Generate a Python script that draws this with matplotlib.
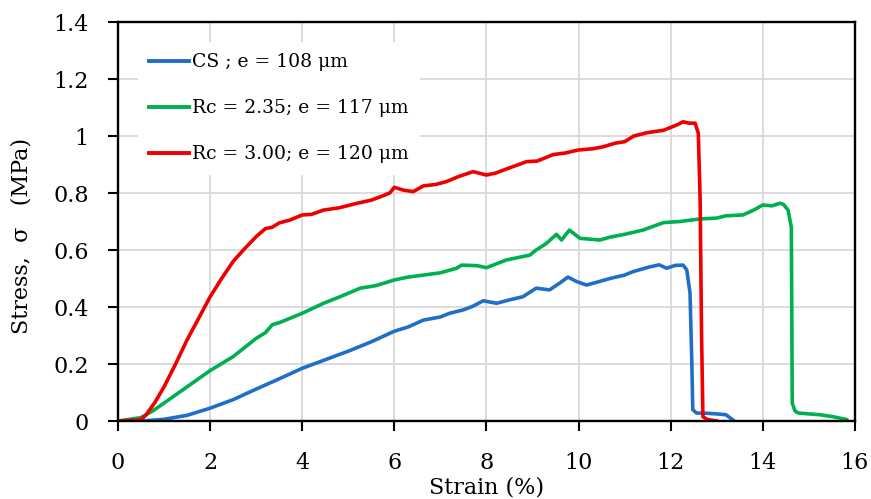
import numpy as np
import matplotlib
matplotlib.use("Agg")
from matplotlib import pyplot as plt

# CS ; e = 108 um
cs_strain = [0, 0.5, 1.0, 1.5, 2.0, 2.5, 3.0, 3.5, 4.0, 4.5, 5.0, 5.5, 6.0, 6.3, 6.63,
             7.0, 7.2, 7.5, 7.71, 7.93, 8.22, 8.5, 8.79, 9.08, 9.37, 9.6, 9.77, 9.95,
             10.17, 10.4, 10.68, 11.0, 11.18, 11.55, 11.75, 11.91, 12.1, 12.27, 12.35,
             12.42, 12.46, 12.48, 12.56, 12.8, 13.0, 13.2, 13.3, 13.38]
cs_stress = [0, 0.0, 0.006, 0.02, 0.045, 0.075, 0.112, 0.148, 0.185, 0.215, 0.245, 0.278,
             0.315, 0.33, 0.354, 0.365, 0.378, 0.39, 0.403, 0.422, 0.413, 0.425, 0.436,
             0.466, 0.46, 0.485, 0.505, 0.49, 0.477, 0.487, 0.50, 0.512, 0.524, 0.541,
             0.548, 0.536, 0.546, 0.547, 0.53, 0.45, 0.20, 0.04, 0.028, 0.027, 0.025,
             0.022, 0.01, 0.0]

# Rc = 2.35; e = 117 um
rc235_strain = [0, 0.5, 0.75, 1.0, 1.5, 2.0, 2.5, 3.0, 3.2, 3.35, 3.5, 3.73, 4.0, 4.46,
                4.82, 5.26, 5.6, 6.0, 6.3, 6.63, 7.0, 7.35, 7.46, 7.8, 8.0, 8.43, 8.94,
                9.08, 9.3, 9.52, 9.63, 9.8, 10.03, 10.46, 10.68, 11.0, 11.4, 11.84, 12.2,
                12.63, 13.0, 13.2, 13.57, 13.8, 14.0, 14.2, 14.37, 14.45, 14.55, 14.62,
                14.64, 14.7, 14.77, 15.0, 15.24, 15.53, 15.82]
rc235_stress = [0, 0.012, 0.035, 0.063, 0.12, 0.177, 0.226, 0.29, 0.31, 0.338, 0.345,
                0.36, 0.378, 0.413, 0.436, 0.466, 0.475, 0.495, 0.505, 0.512, 0.52, 0.536,
                0.547, 0.545, 0.538, 0.565, 0.582, 0.6, 0.623, 0.655, 0.635, 0.67, 0.641,
                0.635, 0.645, 0.655, 0.67, 0.696, 0.7, 0.709, 0.712, 0.72, 0.723, 0.74,
                0.758, 0.755, 0.764, 0.76, 0.74, 0.68, 0.063, 0.035, 0.028, 0.025, 0.022,
                0.015, 0.005]

# Rc = 3.00; e = 120 um
rc300_strain = [0, 0.3, 0.5, 0.6, 0.8, 1.0, 1.25, 1.5, 1.75, 2.0, 2.25, 2.5, 2.75, 3.0,
                3.2, 3.35, 3.5, 3.73, 4.0, 4.2, 4.46, 4.8, 5.19, 5.5, 5.7, 5.9, 6.0, 6.2,
                6.41, 6.63, 6.9, 7.13, 7.4, 7.71, 8.0, 8.2, 8.43, 8.87, 9.1, 9.45, 9.7,
                10.0, 10.3, 10.53, 10.8, 11.0, 11.2, 11.5, 11.84, 12.0, 12.15, 12.27,
                12.4, 12.53, 12.6, 12.64, 12.67, 12.7, 12.8, 13.0]
rc300_stress = [0, 0.002, 0.005, 0.02, 0.065, 0.12, 0.2, 0.285, 0.36, 0.436, 0.5, 0.56,
                0.605, 0.647, 0.675, 0.68, 0.695, 0.705, 0.723, 0.725, 0.74, 0.748, 0.764,
                0.775, 0.787, 0.8, 0.82, 0.81, 0.805, 0.825, 0.83, 0.84, 0.858, 0.875,
                0.863, 0.87, 0.884, 0.91, 0.912, 0.935, 0.94, 0.951, 0.955, 0.962, 0.975,
                0.98, 1.0, 1.012, 1.02, 1.03, 1.04, 1.05, 1.045, 1.045, 1.01, 0.775, 0.31,
                0.015, 0.005, 0.0]

labels = ["CS ; e = 108 \u03bcm", "Rc = 2.35; e = 117 \u03bcm", "Rc = 3.00; e = 120 \u03bcm"]
colors = ["#1F6FC8", "#00B050", "#EE0000"]

plt.rcParams['font.family'] = ['DejaVu Serif']

fig = plt.figure(figsize=(8.71, 4.99), dpi=100)
ax = fig.add_axes([0.1355, 0.1563, 0.846, 0.7996])

series = [(cs_strain, cs_stress), (rc235_strain, rc235_stress), (rc300_strain, rc300_stress)]
for (x, y), lab, c in zip(series, labels, colors):
    ax.plot(x, y, color=c, lw=2.6, label=lab, solid_joinstyle='round')

ax.set_xlim(0, 16)
ax.set_ylim(0, 1.4)
ax.set_xticks(np.arange(0, 17, 2))
ax.set_yticks(np.arange(0, 1.41, 0.2))
ax.set_yticklabels(["0", "0.2", "0.4", "0.6", "0.8", "1", "1.2", "1.4"])
ax.grid(True, color="#d9d9d9", lw=1.3)
ax.set_axisbelow(True)
for s in ax.spines.values():
    s.set_linewidth(1.7)
ax.tick_params(direction='out', length=7, width=1.5, labelsize=16, pad=14)
ax.tick_params(axis='x', pad=15)

ax.set_xlabel("Strain (%)", fontsize=16)
ax.xaxis.set_label_coords(0.5, -0.14)
ax.set_ylabel("Stress,  \u03c3   (MPa)", fontsize=16)
ax.yaxis.set_label_coords(-0.116, 0.464)

leg = ax.legend(loc='upper left', fontsize=13.5, frameon=True, facecolor='white',
                edgecolor='none', framealpha=1, fancybox=False, labelspacing=1.5,
                handlelength=2.1, handletextpad=0.2, borderaxespad=0, borderpad=0.6,
                bbox_to_anchor=(0.027, 0.95))
for line in leg.get_lines():
    line.set_linewidth(2.8)

fig.savefig("out.png", dpi=100)
